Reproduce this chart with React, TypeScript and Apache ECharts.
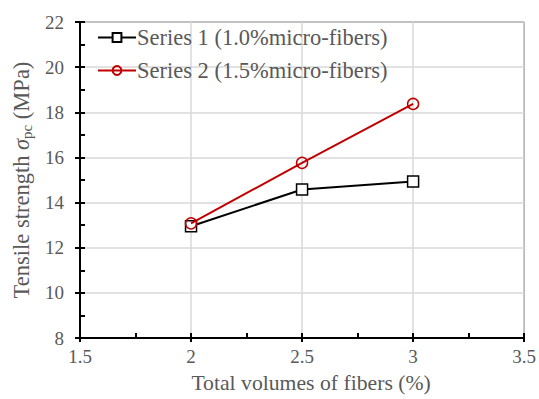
import React, { useEffect, useRef } from "react";
import * as echarts from "echarts";

const xValues = [2, 2.5, 3];
const series1Values = [12.95, 14.58, 14.93];
const series2Values = [13.08, 15.76, 18.37];
const seriesNames = ["Series 1 (1.0%micro-fibers)", "Series 2 (1.5%micro-fibers)"];
const xTitle = "Total volumes of fibers (%)";

const FONT = "Times New Roman";
const GRAY = "#595959";

export default function App() {
  const ref = useRef<HTMLDivElement>(null);
  useEffect(() => {
    if (!ref.current) return;
    const chart = echarts.init(ref.current, undefined, { renderer: "svg" });
    const s1 = xValues.map((x, i) => [x, series1Values[i]]);
    const s2 = xValues.map((x, i) => [x, series2Values[i]]);
    chart.setOption({
      animation: false,
      backgroundColor: "#fff",
      textStyle: { fontFamily: FONT },
      grid: {
        left: 80,
        right: 13,
        top: 22,
        bottom: 59,
        show: true,
        borderColor: "#000",
        borderWidth: 1,
        backgroundColor: "transparent",
      },
      legend: {
        orient: "vertical",
        left: 92,
        top: 21,
        itemWidth: 38,
        itemHeight: 11,
        itemGap: 10,
        textStyle: { fontFamily: FONT, fontSize: 22.5, color: GRAY, padding: [0, 0, 0, -4] },
        data: seriesNames,
      },
      xAxis: [
        {
          type: "value",
          min: 1.5,
          max: 3.5,
          interval: 0.5,
          name: xTitle,
          nameLocation: "middle",
          nameGap: 34,
          nameTextStyle: { fontFamily: FONT, fontSize: 21.7, color: GRAY, padding: [0, 0, 0, 18] },
          axisLine: { show: true, lineStyle: { color: "#000", width: 2 } },
          axisTick: { show: true, inside: false, length: 4, lineStyle: { color: "#000", width: 2 } },
          axisLabel: { fontFamily: FONT, fontSize: 19, color: GRAY, margin: 9 },
          splitLine: { show: true, lineStyle: { color: "#d9d9d9", width: 1.5 } },
        },
        {
          type: "value",
          position: "bottom",
          min: 1.5,
          max: 3.5,
          interval: 0.25,
          axisLine: { show: false },
          axisTick: { show: true, inside: true, length: 5, lineStyle: { color: "#000", width: 2 } },
          axisLabel: { show: false },
          splitLine: { show: false },
        },
      ],
      yAxis: [
        {
          type: "value",
          min: 8,
          max: 22,
          interval: 2,
          name: "{a|Tensile strength }{s|σ}{sub|pc}{a| (MPa)}",
          nameLocation: "middle",
          nameRotate: 90,
          nameGap: 46,
          nameTextStyle: {
            fontFamily: FONT,
            color: GRAY,
            rich: {
              a: { fontFamily: FONT, fontSize: 22.5, color: GRAY },
              s: { fontFamily: FONT, fontSize: 22.5, color: GRAY, fontStyle: "italic" },
              sub: { fontFamily: FONT, fontSize: 15, color: GRAY, verticalAlign: "bottom", padding: [10, 0, 0, 0] },
            },
          },
          axisLine: { show: true, lineStyle: { color: "#000", width: 2 } },
          axisTick: { show: true, inside: false, length: 5, lineStyle: { color: "#000", width: 2 } },
          axisLabel: { fontFamily: FONT, fontSize: 19, color: GRAY, margin: 16 },
          splitLine: { show: true, lineStyle: { color: "#d9d9d9", width: 1.5 } },
        },
        {
          type: "value",
          position: "left",
          min: 8,
          max: 22,
          interval: 1,
          axisLine: { show: false },
          axisTick: { show: true, inside: true, length: 5, lineStyle: { color: "#000", width: 2 } },
          axisLabel: { show: false },
          splitLine: { show: false },
        },
      ],
      series: [
        {
          name: seriesNames[0],
          type: "line",
          data: s1,
          symbol: "rect",
          symbolSize: 11,
          lineStyle: { color: "#000", width: 2 },
          itemStyle: { color: "#fff", borderColor: "#000", borderWidth: 1.5 },
          z: 3,
        },
        {
          name: seriesNames[1],
          type: "line",
          data: s2,
          symbol: "circle",
          symbolSize: 11,
          lineStyle: { color: "#c00000", width: 2 },
          itemStyle: { color: "transparent", borderColor: "#c00000", borderWidth: 1.5 },
          z: 4,
        },
      ],
    });
    return () => chart.dispose();
  }, []);
  return <div ref={ref} style={{ width: 539, height: 399, position: "fixed", left: 0, top: 0 }} />;
}
